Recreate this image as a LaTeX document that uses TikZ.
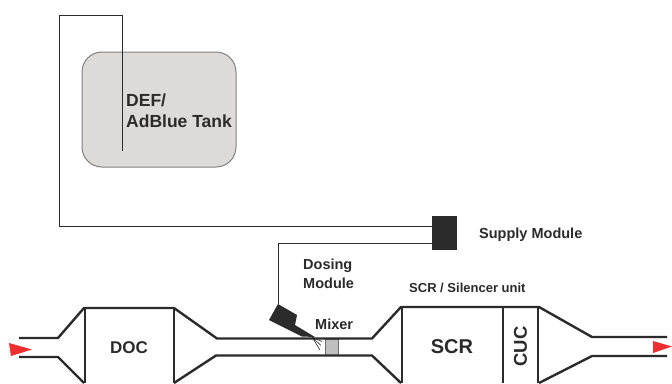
\documentclass[tikz,border=0pt]{standalone}
\usepackage{fontspec}
\setmainfont{Liberation Sans}
\definecolor{ink}{HTML}{2B2B2B}
\definecolor{tankfill}{HTML}{DCDBD9}
\definecolor{flow}{HTML}{EE2E30}
\tikzset{
  wall/.style={draw=ink,line width=2.4pt,line join=miter},
  pipe/.style={draw=ink,line width=1pt},
  lbl/.style={text=ink,inner sep=0pt,font=\bfseries\fontsize{14.5}{19}\selectfont,align=left},
  big/.style={text=ink,inner sep=0pt,font=\bfseries\fontsize{17.5}{21}\selectfont,align=left},
  arrowmark/.style={fill=flow,draw=none}
}
\begin{document}
\begin{tikzpicture}[x=1pt,y=-1pt]
\useasboundingbox (0,0) rectangle (672,383);
\clip (0,0) rectangle (672,383);
\fill[white] (0,0) rectangle (672,383);
% tank
\node[draw=gray,fill=tankfill,line width=1pt,rounded corners=20pt,minimum width=154pt,minimum height=115pt,inner sep=0pt] (tank) at (159,109.5) {};
% supply module
\node[fill=ink,minimum width=25pt,minimum height=34pt,inner sep=0pt] (supply) at (444.5,233) {};
% named points of the pipes
\coordinate (dip) at (122,151);
\coordinate (sOutA) at ([yshift=7pt]supply.west);
\coordinate (sOutB) at ([yshift=-10pt]supply.west);
% injector
\path[fill=ink] (278,304) -- (297,315) -- (295,325) -- (315,337) -- (302,336.5) -- (269,320) -- cycle;
\coordinate (inj) at (278,304);
% pipes
\draw[pipe] (dip) -- (122,15) -- (59.5,15) -- (59.5,226) -- (sOutA);
\draw[pipe] (inj) -- (278,243) -- (sOutB);
% spray
\draw[ink,line width=.6pt] (312,337) -- (320,350) (312,337) -- (321,345.5) (312,337) -- (322,341.5);
% mixer
\node[draw=gray!85!black,fill=gray!50,line width=1pt,minimum width=13pt,minimum height=16pt,inner sep=0pt] (mixer) at (331.5,347) {};
% exhaust line
\draw[wall] (19,338) -- (58,338) -- (84,308) -- (174,308) -- (217,338.5) -- (372,338.5) -- (401,307) -- (539,307) -- (592,337) -- (667,337);
\draw[wall] (19,357) -- (58,357) -- (84,383);
\draw[wall] (174,383) -- (216,355.5) -- (372,355.5) -- (401,383);
\draw[wall] (667,356) -- (592,356) -- (539,383);
\foreach \x in {85,174,402,503,538} \draw[wall] (\x,308) -- (\x,383);
% flow arrows
\fill[arrowmark] (9,343) -- (32,349.5) -- (11,356) -- cycle;
\fill[arrowmark] (653,341) -- (672,346.5) -- (653,353) -- cycle;
% labels
\node[big,anchor=west] (tanklabel) at (126,111) {DEF/\\AdBlue Tank};
\node[lbl,anchor=west] (supplylabel) at (479,234.5) {Supply Module};
\node[lbl,anchor=west] (dosinglabel) at (303,273.5) {Dosing\\Module};
\node[lbl,anchor=west] (mixerlabel) at (315,324) {Mixer};
\node[text=ink,inner sep=0pt,font=\bfseries\fontsize{13}{15}\selectfont,anchor=west] (unitlabel) at (409,288) {SCR / Silencer unit};
\node[text=ink,inner sep=0pt,font=\bfseries\fontsize{17}{20}\selectfont] (doc) at (129,347.5) {DOC};
\node[text=ink,inner sep=0pt,font=\bfseries\fontsize{20}{24}\selectfont] (scr) at (452,346.5) {SCR};
\node[text=ink,inner sep=0pt,font=\bfseries\fontsize{18.5}{22}\selectfont,rotate=90] (cuc) at (520.5,346.5) {CUC};
\end{tikzpicture}
\end{document}
